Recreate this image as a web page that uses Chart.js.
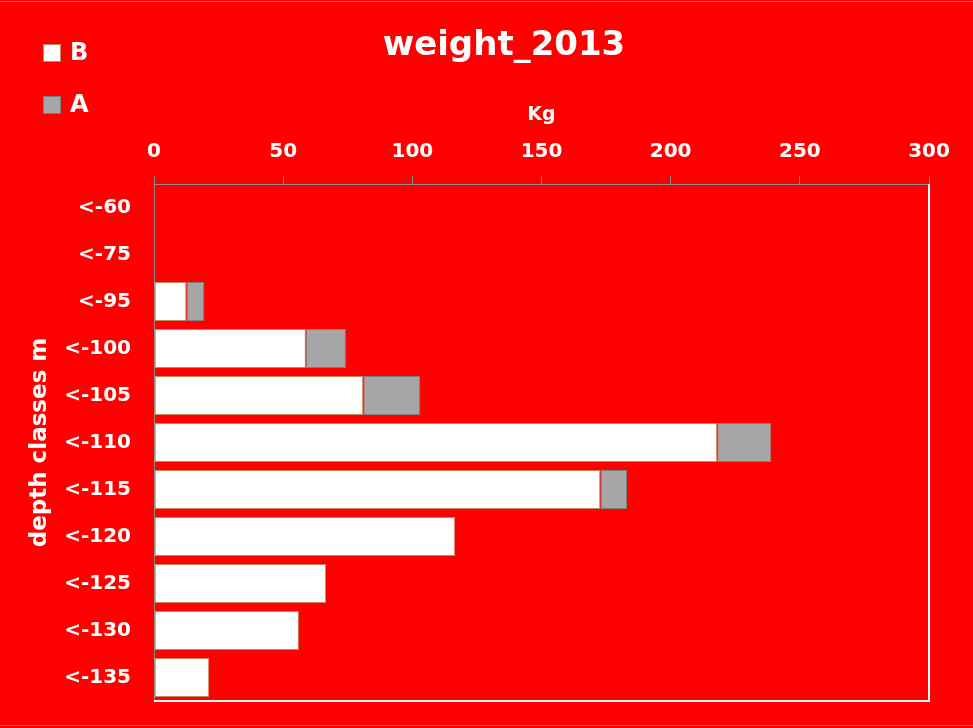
<!DOCTYPE html>
<html lang="en">
<head>
    <meta charset="UTF-8">
    <title>weight_2013</title>
    <script src="https://cdn.jsdelivr.net/npm/chart.js@4/dist/chart.umd.min.js"></script>
    <style>
        html, body { margin: 0; padding: 0; background: #ff0000; }
        .chart-box { position: relative; width: 973px; height: 728px; }
    </style>
</head>
<body>
    <div class="chart-box">
        <canvas id="weightChart" width="973" height="728"></canvas>
    </div>

    <script>
        // depth classes and weights (kg)
        const depthClasses = ['<-60', '<-75', '<-95', '<-100', '<-105', '<-110', '<-115', '<-120', '<-125', '<-130', '<-135'];
        const weightB = [0.3, 0.3, 12.6, 58.8, 81, 218, 172.8, 116.6, 66.6, 56.1, 21.4];
        const weightA = [0, 0, 6.9, 15.5, 22.1, 21, 10.3, 0, 0, 0, 0];
        const kgTicks = [0, 50, 100, 150, 200, 250, 300];

        const FONT = '"DejaVu Sans", "Open Sans", sans-serif';

        // title, vertical legend, white plot frame and the outer border
        const decorations = {
            id: 'decorations',
            afterDraw(chart) {
                const ctx = chart.ctx;
                const area = chart.chartArea;
                ctx.save();

                ctx.strokeStyle = '#ffffff';
                ctx.lineWidth = 2;
                ctx.beginPath();
                ctx.moveTo(area.right, area.top);
                ctx.lineTo(area.right, area.bottom);
                ctx.lineTo(area.left, area.bottom);
                ctx.stroke();

                ctx.strokeStyle = '#8c8c8c';
                ctx.lineWidth = 1;
                ctx.beginPath();
                ctx.moveTo(0, 1.5);
                ctx.lineTo(chart.width, 1.5);
                ctx.moveTo(0, chart.height - 2.5);
                ctx.lineTo(chart.width, chart.height - 2.5);
                ctx.stroke();

                ctx.fillStyle = '#ffffff';
                ctx.textAlign = 'center';
                ctx.textBaseline = 'middle';
                ctx.font = 'bold 34px ' + FONT;
                ctx.fillText('weight_2013', 504, 46);

                ctx.font = 'bold 24px ' + FONT;
                ctx.textAlign = 'left';
                chart.data.datasets.forEach((ds, i) => {
                    const y = 44 + i * 52;
                    ctx.fillStyle = ds.backgroundColor;
                    ctx.fillRect(43, y, 18, 18);
                    ctx.strokeStyle = ds.borderColor;
                    ctx.lineWidth = 1;
                    ctx.strokeRect(43.5, y + 0.5, 17, 17);
                    ctx.fillStyle = '#ffffff';
                    ctx.fillText(ds.label, 70, y + 10);
                });
                ctx.restore();
            }
        };

        const ctx = document.getElementById('weightChart').getContext('2d');
        new Chart(ctx, {
            type: 'bar',
            data: {
                labels: depthClasses,
                datasets: [{
                    label: 'B',
                    data: weightB,
                    backgroundColor: '#ffffff',
                    borderColor: '#c8895a',
                    borderWidth: 1,
                    borderSkipped: false
                }, {
                    label: 'A',
                    data: weightA,
                    backgroundColor: '#a6a6a6',
                    borderColor: '#7f7f7f',
                    borderWidth: 1,
                    borderSkipped: false
                }]
            },
            options: {
                indexAxis: 'y',
                responsive: false,
                animation: false,
                categoryPercentage: 1,
                barPercentage: 0.83,
                layout: {
                    padding: { top: 104, left: 0, right: 44, bottom: 27 }
                },
                plugins: {
                    legend: { display: false },
                    title: { display: false },
                    tooltip: { enabled: false }
                },
                scales: {
                    x: {
                        position: 'top',
                        stacked: true,
                        min: 0,
                        max: 300,
                        afterBuildTicks(scale) {
                            scale.ticks = kgTicks.map(v => ({ value: v }));
                        },
                        afterFit(scale) { scale.height = 80; },
                        title: {
                            display: true,
                            text: 'Kg',
                            color: '#ffffff',
                            font: { family: FONT, size: 19, weight: 'bold' },
                            padding: { top: 0, bottom: 0 }
                        },
                        ticks: {
                            color: '#ffffff',
                            padding: 12,
                            maxRotation: 0,
                            font: { family: FONT, size: 20, weight: 'bold' }
                        },
                        grid: {
                            drawOnChartArea: false,
                            tickLength: 8,
                            color: '#8c8c8c'
                        },
                        border: { color: '#8c8c8c', width: 1 }
                    },
                    y: {
                        stacked: true,
                        afterFit(scale) {
                            scale.width = 154;
                            scale.paddingTop = 0;
                            scale.paddingBottom = 0;
                        },
                        title: {
                            display: true,
                            text: 'depth classes m',
                            color: '#ffffff',
                            font: { family: FONT, size: 23, weight: 'bold' },
                            padding: { top: 26, bottom: 0 }
                        },
                        ticks: {
                            color: '#ffffff',
                            padding: 23,
                            font: { family: FONT, size: 20, weight: 'bold' }
                        },
                        grid: {
                            display: false,
                            drawTicks: false
                        },
                        border: { color: '#8c8c8c', width: 1 }
                    }
                }
            },
            plugins: [decorations]
        });
    </script>
</body>
</html>
